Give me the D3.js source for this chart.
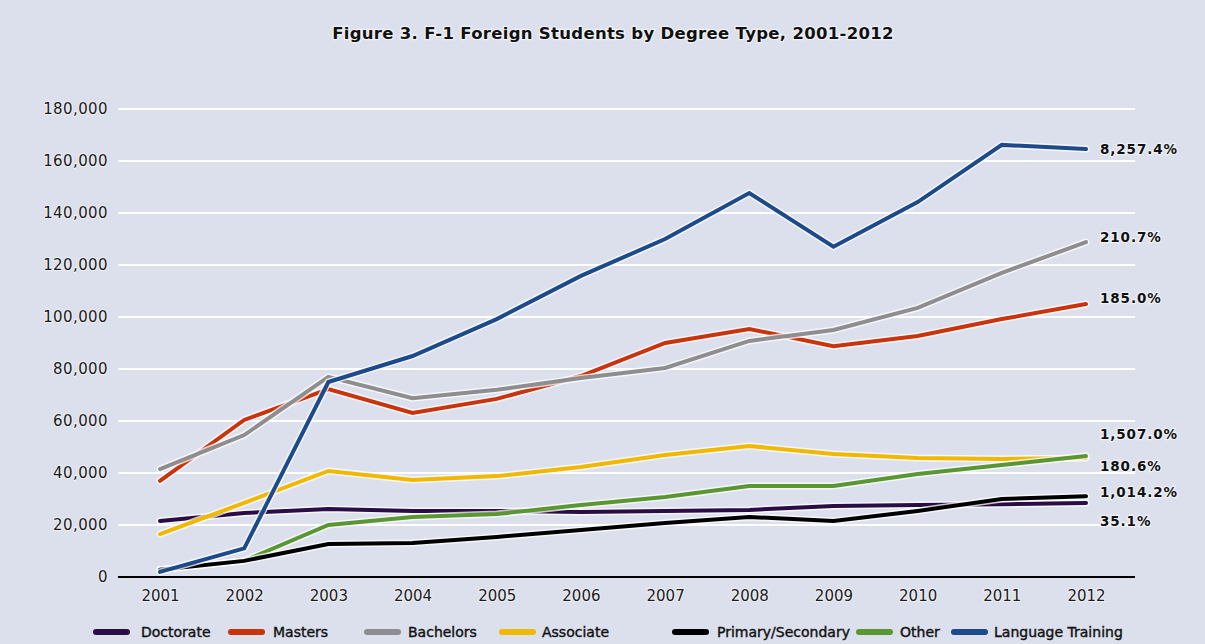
<!DOCTYPE html>
<html>
<head>
<meta charset="utf-8">
<script src="https://cdn.jsdelivr.net/npm/d3@7"></script>
<style>
  html, body { margin: 0; padding: 0; background: #dbe0ec; }
  svg { display: block; }
  text { font-family: "DejaVu Sans", sans-serif; }
</style>
</head>
<body>
<svg id="chart" width="1205" height="644"></svg>
<script>
// F-1 foreign students by degree type, 2001-2012
const years = ["2001","2002","2003","2004","2005","2006","2007","2008","2009","2010","2011","2012"];
const yTicks = [0, 20000, 40000, 60000, 80000, 100000, 120000, 140000, 160000, 180000];

const doctorate = [21500, 24600, 26200, 25400, 25400, 25000, 25400, 25800, 27300, 27700, 28000, 28500];
const masters   = [37000, 60400, 72300, 63100, 68500, 77300, 90000, 95400, 88800, 92700, 99200, 105000];
const bachelors = [41500, 54600, 77000, 68800, 72000, 76500, 80400, 90800, 95000, 103500, 117000, 128800];
const associate = [16500, 28500, 40800, 37300, 38800, 42300, 46900, 50400, 47300, 45800, 45400, 45800];
const primarySecondary = [2800, 6200, 12700, 13100, 15400, 18100, 20800, 23100, 21500, 25400, 30000, 31100];
const other     = [2900, 6200, 20000, 23100, 24200, 27700, 30800, 35000, 35000, 39600, 43100, 46500];
const languageTraining = [1970, 11000, 75000, 85000, 99200, 115800, 130000, 147700, 127000, 144200, 166200, 164600];

const seriesNames  = ["Doctorate", "Masters", "Bachelors", "Associate", "Primary/Secondary", "Other", "Language Training"];
const seriesColors = ["#2b0d45", "#c9340c", "#8e8e90", "#f0b800", "#000000", "#5a9632", "#1c4a8a"];
const growthLabels = ["35.1%", "185.0%", "210.7%", "180.6%", "1,014.2%", "1,507.0%", "8,257.4%"];
// vertical nudge of each end label so the stacked labels do not collide
const labelNudge   = [18, -6, -5, 8, -4, -22, 0];
const legendX      = [93, 228, 364, 499, 672, 856, 951];
const legendTextX  = [141, 273, 408, 542, 717, 900, 994];

const seriesValues = [doctorate, masters, bachelors, associate, primarySecondary, other, languageTraining];
// draw order: back to front
const drawOrder = [0, 3, 5, 4, 1, 2, 6];

const svg = d3.select("#chart");
const W = 1205, H = 644;
const plot = { left: 118, right: 1135, top: 109, bottom: 577 };

svg.append("rect").attr("width", W).attr("height", H).attr("fill", "#dbe0ec");

const x = d3.scalePoint().domain(years).range([160, 1086]);
const y = d3.scaleLinear().domain([0, 180000]).range([plot.bottom, plot.top]);

// title
svg.append("text")
  .attr("x", 613).attr("y", 39)
  .attr("text-anchor", "middle")
  .attr("font-size", 16.5).attr("font-weight", "bold")
  .attr("letter-spacing", 0.3)
  .attr("fill", "#111")
  .attr("stroke", "#ffffff").attr("stroke-width", 2.5).attr("stroke-opacity", 0.6)
  .attr("paint-order", "stroke")
  .text("Figure 3. F-1 Foreign Students by Degree Type, 2001-2012");

// horizontal gridlines
svg.append("g")
  .selectAll("line")
  .data(yTicks.filter(d => d > 0))
  .join("line")
  .attr("x1", plot.left).attr("x2", plot.right)
  .attr("y1", d => y(d)).attr("y2", d => y(d))
  .attr("stroke", "#ffffff").attr("stroke-width", 2);

// y axis labels
const yAxis = svg.append("g")
  .attr("transform", `translate(${plot.left},0)`)
  .call(d3.axisLeft(y).tickValues(yTicks).tickSize(0).tickPadding(10).tickFormat(d3.format(",")));
yAxis.select(".domain").remove();
yAxis.selectAll("text")
  .attr("font-family", "DejaVu Sans, sans-serif")
  .attr("font-size", 15).attr("letter-spacing", 0.4)
  .attr("fill", "#1a1a1a")
  .attr("stroke", "#ffffff").attr("stroke-width", 2).attr("stroke-opacity", 0.55)
  .attr("paint-order", "stroke");

// x axis labels
const xAxis = svg.append("g")
  .attr("transform", `translate(0,${plot.bottom})`)
  .call(d3.axisBottom(x).tickSize(0).tickPadding(13));
xAxis.select(".domain").remove();
xAxis.selectAll("text")
  .attr("font-family", "DejaVu Sans, sans-serif")
  .attr("font-size", 15)
  .attr("fill", "#1a1a1a")
  .attr("stroke", "#ffffff").attr("stroke-width", 2).attr("stroke-opacity", 0.55)
  .attr("paint-order", "stroke");

// baseline
svg.append("line")
  .attr("x1", plot.left).attr("x2", plot.right)
  .attr("y1", y(0)).attr("y2", y(0))
  .attr("stroke", "#000").attr("stroke-width", 2);

// series lines
const line = d3.line()
  .x((d, i) => x(years[i]))
  .y(d => y(d));

const linesG = svg.append("g");
drawOrder.forEach(k => {
  linesG.append("path")
    .datum(seriesValues[k])
    .attr("d", line)
    .attr("fill", "none")
    .attr("stroke", "#ffffff").attr("stroke-opacity", 0.75)
    .attr("stroke-width", 7)
    .attr("stroke-linejoin", "miter").attr("stroke-linecap", "round");
  linesG.append("path")
    .datum(seriesValues[k])
    .attr("d", line)
    .attr("fill", "none")
    .attr("stroke", seriesColors[k])
    .attr("stroke-width", 4)
    .attr("stroke-linejoin", "miter").attr("stroke-linecap", "round");
});

// growth labels at the end of each line
svg.append("g")
  .selectAll("text")
  .data(seriesValues.map((v, i) => ({ v: v[v.length - 1], i })))
  .join("text")
  .attr("x", x(years[years.length - 1]) + 14)
  .attr("y", d => y(d.v) + labelNudge[d.i])
  .attr("dy", "0.35em")
  .attr("font-size", 13.5).attr("font-weight", "bold")
  .attr("letter-spacing", 0.9)
  .attr("fill", "#111")
  .attr("stroke", "#ffffff").attr("stroke-width", 2.5).attr("stroke-opacity", 0.6)
  .attr("paint-order", "stroke")
  .text(d => growthLabels[d.i]);

// legend
const legend = svg.append("g");
seriesNames.forEach((name, i) => {
  legend.append("line")
    .attr("x1", legendX[i] + 3).attr("x2", legendX[i] + 34)
    .attr("y1", 632).attr("y2", 632)
    .attr("stroke", seriesColors[i]).attr("stroke-width", 6)
    .attr("stroke-linecap", "round");
  legend.append("text")
    .attr("x", legendTextX[i]).attr("y", 632)
    .attr("dy", "0.36em")
    .attr("font-size", 14)
    .attr("fill", "#111")
    .attr("stroke", "#111").attr("stroke-width", 0.4)
    .text(name);
});
</script>
</body>
</html>
